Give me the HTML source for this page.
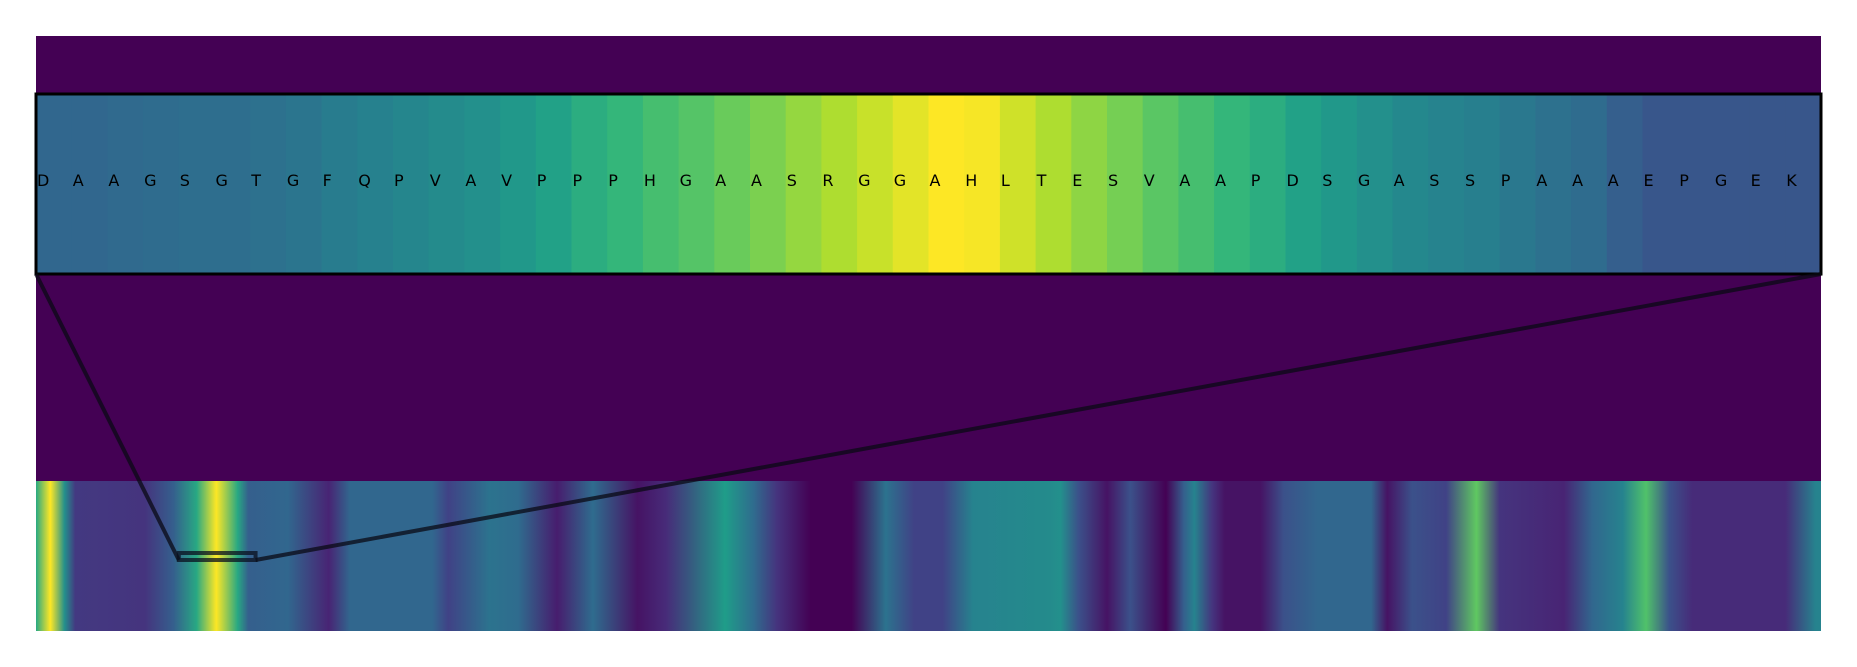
<!DOCTYPE html>
<html><head><meta charset="utf-8">
<style>
body{margin:0;background:#fff;width:1857px;height:667px;overflow:hidden}
svg{display:block}
text{font-family:"DejaVu Sans","Liberation Sans",sans-serif}
</style></head>
<body>
<svg id="chart" width="1857" height="667" xmlns="http://www.w3.org/2000/svg">
<rect x="36" y="36" width="1785" height="445" fill="#440154"/>
<defs><linearGradient id="strip" x1="0" x2="1" y1="0" y2="0"></linearGradient></defs>
<g id="topgrp"></g>
<rect x="36" y="481" width="1785" height="150" fill="url(#strip)"/>
<g id="overlay"></g>
</svg>
<script>
const residues = ["D","A","A","G","S","G","T","G","F","Q","P","V","A","V","P","P","P","H","G","A","A","S","R","G","G","A","H","L","T","E","S","V","A","A","P","D","S","G","A","S","S","P","A","A","A","E","P","G","E","K"];
const residueScores = [0.33,0.33,0.34,0.35,0.36,0.36,0.37,0.39,0.42,0.44,0.46,0.48,0.50,0.53,0.57,0.62,0.66,0.70,0.73,0.77,0.80,0.84,0.88,0.92,0.96,1.0,0.99,0.93,0.88,0.83,0.79,0.74,0.70,0.66,0.62,0.57,0.53,0.50,0.47,0.45,0.43,0.40,0.37,0.35,0.30,0.27,0.27,0.27,0.27,0.27];
const stripPos = [0,8,16,22,61,77,90,101,113,119,141,164,176,222,231,254,270,292,312,337,353,386,402,415,434,457,476,492,508,525,568,574,584,600,613,633,643,649,659,666,686,699,718,748,757,771,790,807,820,856,872,889,902,915,928,980,997,1000];
const stripVals = [0.6,1.0,0.5,0.17,0.15,0.3,0.6,1.0,0.6,0.3,0.33,0.1,0.33,0.33,0.2,0.38,0.35,0.08,0.35,0.05,0.12,0.55,0.35,0.15,0.0,0.0,0.38,0.2,0.2,0.45,0.48,0.5,0.25,0.05,0.25,0.0,0.3,0.45,0.15,0.05,0.05,0.25,0.33,0.33,0.05,0.25,0.2,0.75,0.15,0.1,0.33,0.45,0.72,0.25,0.12,0.12,0.45,0.45];
const zoomRange = [80,123];
const stripDomain = 1000;

const V=[[68,1,84],[72,40,120],[62,73,137],[49,104,142],[38,130,142],[31,158,137],[53,183,121],[109,205,89],[180,222,44],[253,231,37]];
function viridis(t){t=Math.max(0,Math.min(1,t))*9;const i=Math.min(8,Math.floor(t)),f=t-i;const a=V[i],b=V[i+1];return 'rgb('+a.map((c,k)=>Math.round(c+(b[k]-c)*f)).join(',')+')';}
const NS="http://www.w3.org/2000/svg";
const L=36,R=1821,W=R-L,TY=94,TH=180,SY=481,SH=150;
const xTop=i=>L+i*W/residues.length;
const xStrip=p=>L+p/stripDomain*W;
const topGroup=document.getElementById('topgrp');
const cw=W/residues.length;
residues.forEach((r,i)=>{
  const c=document.createElementNS(NS,'rect');
  
  
  c.setAttribute('x',xTop(i));c.setAttribute('y',TY);c.setAttribute('width',cw+0.6);c.setAttribute('height',TH);
  c.setAttribute('fill',viridis(residueScores[i]));topGroup.appendChild(c);
  const t=document.createElementNS(NS,'text');
  
  
  t.setAttribute('x',xTop(i)+1);t.setAttribute('y',TY+TH/2+2);t.setAttribute('font-size','16');t.textContent=r;topGroup.appendChild(t);
});
const grad=document.getElementById('strip');
stripPos.forEach((p,i)=>{const s=document.createElementNS(NS,'stop');s.setAttribute('offset',p/stripDomain);s.setAttribute('stop-color',viridis(stripVals[i]));grad.appendChild(s);});
const ov=document.getElementById('overlay');
const zx1=xStrip(zoomRange[0]),zx2=xStrip(zoomRange[1]);
function mk(tag,attrs){const e=document.createElementNS(NS,tag);for(const k in attrs)e.setAttribute(k,attrs[k]);ov.appendChild(e);return e;}
const frame=mk('rect',{x:L,y:TY,width:W,height:TH,fill:'none',stroke:'#000','stroke-width':3});


const c1=mk('line',{x1:L,y1:TY+TH,x2:zx1,y2:560,stroke:'rgba(10,10,20,0.75)','stroke-width':4});


const c2=mk('line',{x1:R,y1:TY+TH,x2:zx2,y2:560,stroke:'rgba(10,10,20,0.75)','stroke-width':4});


const zm=mk('rect',{x:zx1,y:553,width:zx2-zx1,height:7,fill:'none',stroke:'rgba(10,15,30,0.75)','stroke-width':4});


</script>
</body></html>
